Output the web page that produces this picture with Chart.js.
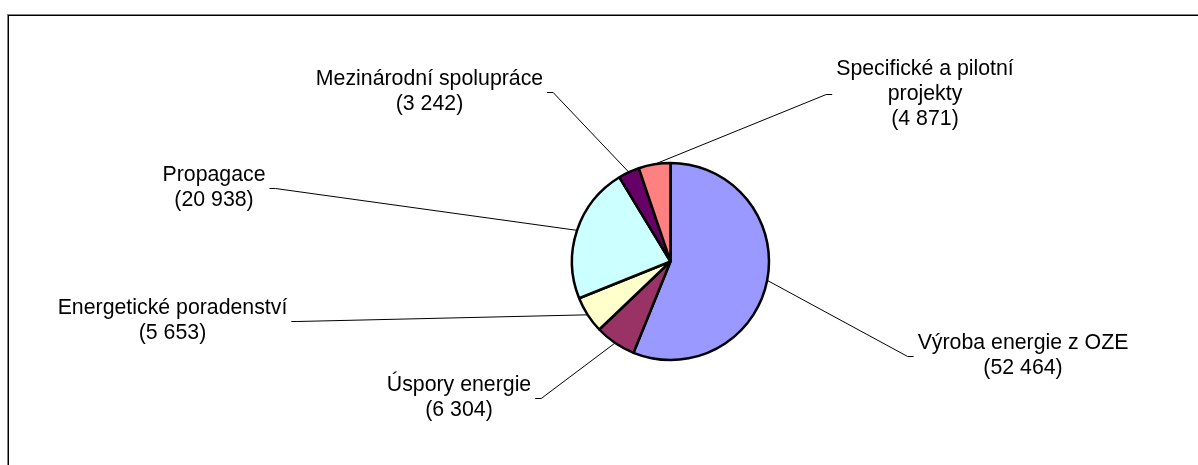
<!DOCTYPE html>
<html>
<head>
<meta charset="utf-8">
<script src="https://cdn.jsdelivr.net/npm/chart.js@4"></script>
<style>
  html, body { margin: 0; padding: 0; background: #fff; }
  canvas { display: block; }
</style>
</head>
<body>
<canvas id="graf" width="1198" height="465"></canvas>
<script>
  const kategorie = [
    'Výroba energie z OZE',
    'Úspory energie',
    'Energetické poradenství',
    'Propagace',
    'Mezinárodní spolupráce',
    ['Specifické a pilotní', 'projekty']
  ];
  const hodnoty = [52464, 6304, 5653, 20938, 3242, 4871];
  const barvy = ['#9999FF', '#993366', '#FFFFCC', '#CCFFFF', '#660066', '#FF8080'];

  // umisteni popisku vuci stredu kolace (stred bloku textu), strana pro odkazovou caru
  const popiskyPos = [
    { dx: 352.5, dy: 94, strana: 'left' },
    { dx: -211.5, dy: 136.5, strana: 'right' },
    { dx: -498, dy: 59, strana: 'right' },
    { dx: -456.5, dy: -74, strana: 'right' },
    { dx: -241, dy: -170, strana: 'right' },
    { dx: 254.5, dy: -167.5, strana: 'left' }
  ];

  const FONT = '21.3px "Liberation Sans", Arial, sans-serif';
  const RADEK = 25;

  function formatCislo(v) {
    return String(v).replace(/\B(?=(\d{3})+(?!\d))/g, ' ');
  }

  const ramecek = {
    id: 'ramecek',
    beforeDraw(chart) {
      const ctx = chart.ctx;
      ctx.save();
      ctx.fillStyle = '#fff';
      ctx.fillRect(0, 0, chart.width, chart.height);
      ctx.fillStyle = '#808080';
      ctx.fillRect(7, 14, chart.width - 7, 1);
      ctx.fillRect(7, 14, 1, chart.height - 14);
      ctx.fillStyle = '#000';
      ctx.fillRect(8, 15, chart.width - 8, 1);
      ctx.fillRect(8, 15, 1, chart.height - 15);
      ctx.restore();
    }
  };

  const popisky = {
    id: 'popisky',
    afterDatasetsDraw(chart) {
      const ctx = chart.ctx;
      const arcs = chart.getDatasetMeta(0).data;
      ctx.save();
      ctx.font = FONT;
      ctx.fillStyle = '#000';
      ctx.strokeStyle = '#000';
      ctx.lineWidth = 1;
      ctx.textAlign = 'center';
      ctx.textBaseline = 'middle';
      arcs.forEach((arc, i) => {
        const p = popiskyPos[i];
        const cx = arc.x + p.dx;
        const cy = arc.y + p.dy;
        const nazev = Array.isArray(kategorie[i]) ? kategorie[i] : [kategorie[i]];
        const radky = nazev.concat(['(' + formatCislo(hodnoty[i]) + ')']);
        const sirka = Math.max(...radky.map(r => ctx.measureText(r).width));
        const y0 = cy - (radky.length - 1) * RADEK / 2;
        radky.forEach((r, k) => ctx.fillText(r, cx, y0 + k * RADEK));

        // odkazova cara od okraje vysece k popisku
        const mid = (arc.startAngle + arc.endAngle) / 2;
        const ex = arc.x + Math.cos(mid) * arc.outerRadius;
        const ey = arc.y + Math.sin(mid) * arc.outerRadius;
        const dir = p.strana === 'left' ? -1 : 1;
        const bx = cx + dir * (sirka / 2 + 4);
        ctx.beginPath();
        ctx.moveTo(bx, Math.round(cy) + 0.5);
        ctx.lineTo(bx + dir * 6, Math.round(cy) + 0.5);
        ctx.lineTo(ex, ey);
        ctx.stroke();
      });
      ctx.restore();
    }
  };

  new Chart(document.getElementById('graf'), {
    type: 'pie',
    data: {
      labels: kategorie,
      datasets: [{
        data: hodnoty,
        backgroundColor: barvy,
        borderColor: '#000',
        borderWidth: 2.5
      }]
    },
    options: {
      responsive: false,
      animation: false,
      radius: 98.5,
      layout: { padding: { left: 143, right: 0, top: 58, bottom: 0 } },
      plugins: {
        legend: { display: false },
        tooltip: { enabled: false }
      }
    },
    plugins: [ramecek, popisky]
  });
</script>
</body>
</html>
